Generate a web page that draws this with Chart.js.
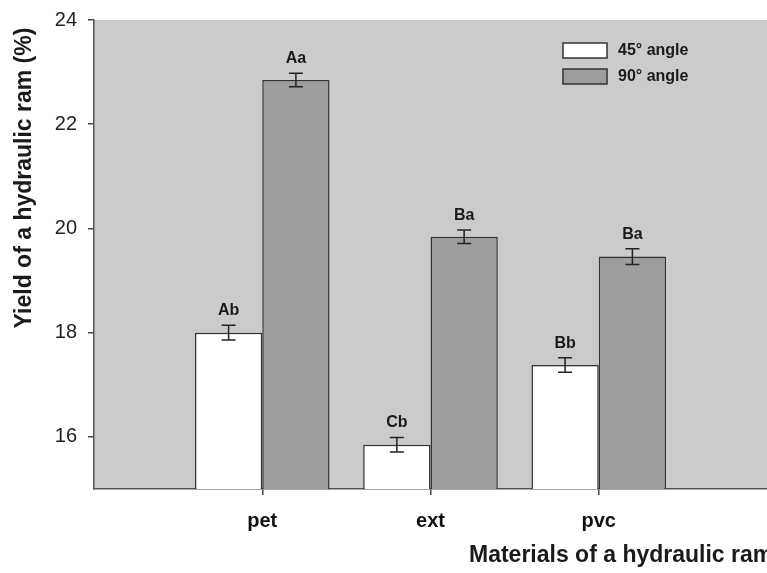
<!DOCTYPE html>
<html>
<head>
<meta charset="utf-8">
<script src="https://cdn.jsdelivr.net/npm/chart.js@4/dist/chart.umd.min.js"></script>
<style>
  body { margin: 0; background: #fff; }
  #wrap { width: 767px; height: 573px; }
</style>
</head>
<body>
<div id="wrap"><canvas id="yieldChart" width="767" height="573"></canvas></div>
<script>
// Data
const categories = ['', 'pet', 'ext', 'pvc', ''];
const angle45 = [null, 18.0, 15.85, 17.38, null];
const angle90 = [null, 22.85, 19.84, 19.46, null];
const err45 = [null, 0.14, 0.14, 0.14, null];
const err90 = [null, 0.13, 0.13, 0.15, null];
const letters45 = ['', 'Ab', 'Cb', 'Bb', ''];
const letters90 = ['', 'Aa', 'Ba', 'Ba', ''];
const yTicks = [16, 18, 20, 22, 24];

const FONT = 'Arial, "Liberation Sans", Helvetica, sans-serif';

// gray plot background
const plotBg = {
  id: 'plotBg',
  beforeDraw(chart) {
    const { ctx, chartArea: a } = chart;
    ctx.save();
    ctx.fillStyle = '#cbcbcb';
    ctx.fillRect(a.left, a.top, a.right - a.left, a.bottom - a.top);
    ctx.restore();
  }
};

// error bars + significance letters
const errorBars = {
  id: 'errorBars',
  afterDatasetsDraw(chart) {
    const { ctx } = chart;
    const y = chart.scales.y;
    ctx.save();
    chart.data.datasets.forEach((ds, di) => {
      const meta = chart.getDatasetMeta(di);
      meta.data.forEach((bar, i) => {
        const v = ds.data[i];
        if (v == null) return;
        const e = ds.errors[i];
        const yTop = y.getPixelForValue(v + e);
        const yBot = y.getPixelForValue(v - e);
        ctx.strokeStyle = '#222';
        ctx.lineWidth = 1.5;
        ctx.beginPath();
        ctx.moveTo(bar.x, yTop); ctx.lineTo(bar.x, yBot);
        ctx.moveTo(bar.x - 7, yTop); ctx.lineTo(bar.x + 7, yTop);
        ctx.moveTo(bar.x - 7, yBot); ctx.lineTo(bar.x + 7, yBot);
        ctx.stroke();
        ctx.fillStyle = '#1a1a1a';
        ctx.font = 'bold 16px ' + FONT;
        ctx.textAlign = 'center';
        ctx.textBaseline = 'alphabetic';
        ctx.fillText(ds.letters[i], bar.x, yTop - 10);
      });
    });
    ctx.restore();
  }
};

// legend inside the plot + axis titles
const extras = {
  id: 'extras',
  afterDraw(chart) {
    const { ctx } = chart;
    ctx.save();
    const rows = [{ y: 43 }, { y: 69 }];
    chart.data.datasets.forEach((ds, i) => {
      const r = rows[i];
      ctx.fillStyle = ds.backgroundColor;
      ctx.fillRect(563, r.y, 44, 15);
      ctx.strokeStyle = '#333';
      ctx.lineWidth = 1.5;
      ctx.strokeRect(563, r.y, 44, 15);
      ctx.fillStyle = '#1a1a1a';
      ctx.font = 'bold 16px ' + FONT;
      ctx.textAlign = 'left';
      ctx.textBaseline = 'middle';
      ctx.fillText(ds.label, 618, r.y + 8);
    });

    ctx.fillStyle = '#1a1a1a';
    ctx.font = 'bold 23px ' + FONT;
    ctx.textBaseline = 'middle';
    ctx.textAlign = 'left';
    ctx.fillText('Materials of a hydraulic ram', 469, 556);

    ctx.translate(25, 178);
    ctx.rotate(-Math.PI / 2);
    ctx.textAlign = 'center';
    ctx.fillText('Yield of a hydraulic ram (%)', 0, 0);
    ctx.restore();
  }
};

new Chart(document.getElementById('yieldChart'), {
  type: 'bar',
  data: {
    labels: categories,
    datasets: [
      {
        label: '45° angle',
        data: angle45,
        errors: err45,
        letters: letters45,
        backgroundColor: '#ffffff',
        borderColor: '#333333',
        borderWidth: 1.5,
        borderSkipped: false,
        categoryPercentage: 0.8,
        barPercentage: 1.0
      },
      {
        label: '90° angle',
        data: angle90,
        errors: err90,
        letters: letters90,
        backgroundColor: '#9d9d9d',
        borderColor: '#333333',
        borderWidth: 1.5,
        borderSkipped: false,
        categoryPercentage: 0.8,
        barPercentage: 1.0
      }
    ]
  },
  options: {
    responsive: false,
    animation: false,
    layout: { padding: { top: 20, right: 0, left: 0, bottom: 0 } },
    plugins: {
      legend: { display: false },
      tooltip: { enabled: false }
    },
    scales: {
      x: {
        offset: false,
        grid: {
          offset: false,
          drawOnChartArea: false,
          drawTicks: true,
          tickLength: 6,
          color: (c) => (c.index === 0 || c.index === categories.length - 1) ? 'rgba(0,0,0,0)' : '#444',
          lineWidth: 1.5
        },
        border: { display: true, color: '#555', width: 1.5 },
        ticks: {
          autoSkip: false,
          maxRotation: 0,
          padding: 14,
          color: '#111',
          font: { family: FONT, size: 20, weight: 'bold' }
        },
        afterFit(scale) {
          scale.height = 84;
          scale.paddingLeft = 0;
          scale.paddingRight = 0;
        }
      },
      y: {
        min: 15,
        max: 24,
        afterBuildTicks(scale) { scale.ticks = yTicks.map(v => ({ value: v })); },
        grid: {
          drawOnChartArea: false,
          drawTicks: true,
          tickLength: 6,
          color: '#444',
          lineWidth: 1.5
        },
        border: { display: true, color: '#555', width: 1.5 },
        ticks: {
          padding: 11,
          color: '#222',
          font: { family: FONT, size: 20 }
        },
        afterFit(scale) {
          scale.width = 94;
          scale.paddingTop = 0;
          scale.paddingBottom = 0;
        }
      }
    }
  },
  plugins: [plotBg, errorBars, extras]
});
</script>
</body>
</html>
